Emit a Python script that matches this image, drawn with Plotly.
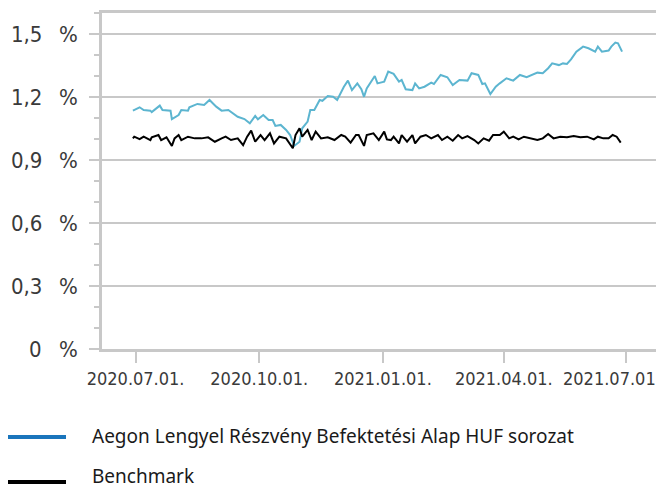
import plotly.graph_objects as go

# ---------------- data ----------------
fund_name = "Aegon Lengyel Részvény Befektetési Alap HUF sorozat"
bench_name = "Benchmark"

fund_dates = ["2020-06-29", "2020-07-04", "2020-07-07", "2020-07-12", "2020-07-13", "2020-07-19", "2020-07-21", "2020-07-27", "2020-07-28", "2020-08-02",
              "2020-08-04", "2020-08-09", "2020-08-10", "2020-08-16", "2020-08-21", "2020-08-25", "2020-08-30", "2020-09-03", "2020-09-08", "2020-09-12",
              "2020-09-15", "2020-09-20", "2020-09-24", "2020-09-28", "2020-09-30", "2020-10-04", "2020-10-08", "2020-10-11", "2020-10-13", "2020-10-17",
              "2020-10-21", "2020-10-24", "2020-10-27", "2020-10-31", "2020-11-02", "2020-11-06", "2020-11-08", "2020-11-11", "2020-11-15", "2020-11-17",
              "2020-11-21", "2020-11-25", "2020-11-28", "2020-12-03", "2020-12-06", "2020-12-09", "2020-12-13", "2020-12-16", "2020-12-18", "2020-12-20",
              "2020-12-26", "2020-12-28", "2021-01-02", "2021-01-05", "2021-01-09", "2021-01-13", "2021-01-15", "2021-01-18", "2021-01-23", "2021-01-25",
              "2021-01-28", "2021-02-01", "2021-02-06", "2021-02-08", "2021-02-13", "2021-02-18", "2021-02-22", "2021-02-27", "2021-03-05", "2021-03-08",
              "2021-03-13", "2021-03-16", "2021-03-18", "2021-03-22", "2021-03-26", "2021-03-29", "2021-04-03", "2021-04-08", "2021-04-13", "2021-04-18",
              "2021-04-26", "2021-04-30", "2021-05-04", "2021-05-07", "2021-05-12", "2021-05-15", "2021-05-18", "2021-05-21", "2021-05-25", "2021-05-30",
              "2021-06-03", "2021-06-08", "2021-06-10", "2021-06-13", "2021-06-18", "2021-06-20", "2021-06-23", "2021-06-25", "2021-06-28"]
fund_values = [1.135, 1.151, 1.138, 1.135, 1.128, 1.159, 1.138, 1.135, 1.095, 1.114,
               1.138, 1.135, 1.151, 1.167, 1.162, 1.186, 1.154, 1.135, 1.138, 1.119,
               1.106, 1.095, 1.075, 1.110, 1.094, 1.114, 1.090, 1.090, 1.062, 1.067,
               1.043, 1.019, 0.967, 0.987, 1.051, 1.083, 1.138, 1.138, 1.186, 1.182,
               1.205, 1.201, 1.186, 1.249, 1.278, 1.233, 1.265, 1.237, 1.201, 1.241,
               1.300, 1.265, 1.273, 1.321, 1.310, 1.273, 1.281, 1.237, 1.233, 1.265,
               1.241, 1.249, 1.268, 1.262, 1.305, 1.294, 1.257, 1.281, 1.278, 1.313,
               1.305, 1.262, 1.265, 1.214, 1.249, 1.265, 1.289, 1.278, 1.305, 1.294,
               1.316, 1.313, 1.337, 1.360, 1.352, 1.360, 1.357, 1.379, 1.416, 1.440,
               1.432, 1.416, 1.440, 1.416, 1.421, 1.440, 1.459, 1.456, 1.416]

bench_dates = ["2020-06-29", "2020-06-30", "2020-07-04", "2020-07-07", "2020-07-12", "2020-07-13", "2020-07-18", "2020-07-20", "2020-07-24", "2020-07-28",
               "2020-07-30", "2020-08-02", "2020-08-04", "2020-08-09", "2020-08-14", "2020-08-19", "2020-08-24", "2020-08-29", "2020-09-03", "2020-09-06",
               "2020-09-10", "2020-09-15", "2020-09-19", "2020-09-22", "2020-09-25", "2020-09-28", "2020-10-02", "2020-10-05", "2020-10-09", "2020-10-12",
               "2020-10-16", "2020-10-21", "2020-10-26", "2020-10-28", "2020-10-31", "2020-11-02", "2020-11-06", "2020-11-09", "2020-11-12", "2020-11-16",
               "2020-11-21", "2020-11-26", "2020-12-01", "2020-12-04", "2020-12-08", "2020-12-12", "2020-12-14", "2020-12-18", "2020-12-20", "2020-12-25",
               "2020-12-29", "2021-01-02", "2021-01-04", "2021-01-07", "2021-01-09", "2021-01-13", "2021-01-15", "2021-01-19", "2021-01-23", "2021-01-25",
               "2021-01-29", "2021-02-02", "2021-02-06", "2021-02-11", "2021-02-14", "2021-02-18", "2021-02-22", "2021-02-26", "2021-03-01", "2021-03-05",
               "2021-03-10", "2021-03-13", "2021-03-17", "2021-03-21", "2021-03-24", "2021-03-29", "2021-04-01", "2021-04-05", "2021-04-08", "2021-04-12",
               "2021-04-16", "2021-04-21", "2021-04-26", "2021-04-30", "2021-05-04", "2021-05-08", "2021-05-13", "2021-05-18", "2021-05-23", "2021-05-28",
               "2021-06-02", "2021-06-07", "2021-06-10", "2021-06-14", "2021-06-18", "2021-06-21", "2021-06-24", "2021-06-27"]
bench_values = [1.003, 1.011, 0.999, 1.011, 0.995, 1.008, 1.019, 0.995, 1.008, 0.967,
                1.003, 1.019, 0.995, 1.011, 1.003, 1.003, 1.008, 0.987, 1.003, 1.011,
                0.995, 1.003, 0.971, 1.011, 1.040, 0.987, 1.019, 0.995, 1.027, 0.979,
                1.011, 1.003, 0.956, 1.019, 1.051, 1.011, 1.043, 0.995, 1.035, 1.003,
                1.008, 0.995, 1.019, 1.011, 0.983, 1.019, 1.019, 0.967, 1.019, 1.027,
                0.995, 1.035, 0.998, 0.995, 1.011, 0.979, 1.019, 0.987, 1.019, 0.979,
                1.011, 1.019, 1.003, 1.019, 0.995, 1.011, 0.992, 1.019, 1.003, 1.014,
                0.995, 0.979, 1.003, 0.992, 1.019, 1.019, 1.035, 1.003, 1.011, 0.998,
                1.011, 1.003, 0.995, 1.003, 1.024, 1.003, 1.011, 1.008, 1.014, 1.008,
                1.011, 0.998, 1.011, 1.003, 1.003, 1.019, 1.011, 0.983]

x_tick_vals = ["2020-07-01", "2020-10-01", "2021-01-01", "2021-04-01", "2021-07-01"]
x_tick_text = ["2020.07.01.", "2020.10.01.", "2021.01.01.", "2021.04.01.", "2021.07.01."]
y_tick_vals = [0, 0.3, 0.6, 0.9, 1.2, 1.5]
y_tick_text = ["0", "0,3", "0,6", "0,9", "1,2", "1,5"]

# ---------------- style ----------------
fund_color = "#5cb5d0"
fund_legend_color = "#1a75bc"
bench_color = "#000000"
grid_color = "#c8c8c8"
x_tick_font = dict(family="DejaVu Sans Condensed, DejaVu Sans", size=18, color="#3a3a3a")
y_tick_font = dict(family="DejaVu Sans Condensed, DejaVu Sans", size=22, color="#3a3a3a")
legend_font = dict(family="Noto Sans", size=19, color="#1a1a1a")

# the page body adds an 8 px offset, so the figure is drawn 8 px smaller
OFF = 8
W, H = 664 - OFF, 489 - OFF
ml, mr, mt, mb = 102 - OFF, 7, 13 - OFF, 140
pw, ph = W - ml - mr, H - mt - mb

fig = go.Figure()
fig.add_trace(go.Scatter(x=fund_dates, y=fund_values, mode="lines", name=fund_name,
                         line=dict(color=fund_color, width=2), showlegend=False))
fig.add_trace(go.Scatter(x=bench_dates, y=bench_values, mode="lines", name=bench_name,
                         line=dict(color=bench_color, width=2), showlegend=False))


def px_to_paper(px, py):
    # px, py are window pixel positions
    return (px - OFF - ml) / pw, (H - mb - (py - OFF)) / ph


# custom legend (lines + text)
legend_items = [(fund_name, fund_legend_color, 437, 436), (bench_name, bench_color, 482, 476)]
for label, col, py, ty in legend_items:
    x0, y0 = px_to_paper(8, py)
    x1, _ = px_to_paper(66, py)
    fig.add_shape(type="line", xref="paper", yref="paper", x0=x0, x1=x1, y0=y0, y1=y0,
                  line=dict(color=col, width=4))
    tx, tyy = px_to_paper(90, ty)
    fig.add_annotation(xref="paper", yref="paper", x=tx, y=tyy, text=label, showarrow=False,
                       xanchor="left", yanchor="middle", font=legend_font)

# y tick labels: number right-aligned, percent sign in its own column
for v, t in zip(y_tick_vals, y_tick_text):
    fig.add_annotation(xref="paper", yref="y", x=px_to_paper(44, 0)[0], y=v, text=t,
                       showarrow=False, xanchor="right", yanchor="middle", font=y_tick_font)
    fig.add_annotation(xref="paper", yref="y", x=px_to_paper(57, 0)[0], y=v, text="%",
                       showarrow=False, xanchor="left", yanchor="middle", font=y_tick_font)

# last x label is pulled inside the chart edge (as in the original)
x_tick_text_shown = x_tick_text[:-1] + [""]
lx, ly = px_to_paper(663, 378)
fig.add_annotation(xref="paper", yref="paper", x=lx, y=ly, text=x_tick_text[-1],
                   showarrow=False, xanchor="right", yanchor="middle", font=x_tick_font)

fig.update_layout(
    width=W, height=H,
    margin=dict(l=ml, r=mr, t=mt, b=mb, pad=0, autoexpand=False),
    paper_bgcolor="white", plot_bgcolor="white",
    showlegend=False,
    xaxis=dict(
        type="date", range=["2020-06-06", "2021-07-24"],
        tickmode="array", tickvals=x_tick_vals, ticktext=x_tick_text_shown,
        ticks="outside", ticklen=11, tickwidth=2, tickcolor=grid_color,
        showgrid=False, zeroline=False, automargin=False,
        showline=True, linecolor=grid_color, linewidth=3, mirror=True,
        tickfont=x_tick_font, ticklabelstandoff=0, ticklabeloverflow="allow",
    ),
    yaxis=dict(
        range=[0, 1.6], automargin=False,
        tickmode="array", tickvals=y_tick_vals, ticktext=[""] * len(y_tick_vals),
        ticks="outside", ticklen=10, tickwidth=2, tickcolor=grid_color,
        minor=dict(tickmode="linear", tick0=0, dtick=0.1, ticks="outside", ticklen=5,
                   tickwidth=2, tickcolor=grid_color, showgrid=False),
        showgrid=True, gridcolor=grid_color, gridwidth=2,
        zeroline=False,
        showline=True, linecolor=grid_color, linewidth=3, mirror=True,
    ),
)

fig.write_html("out.html")
